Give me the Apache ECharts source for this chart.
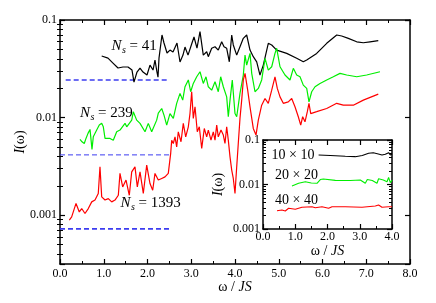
<!DOCTYPE html>
<html><head><meta charset="utf-8">
<script src="https://cdn.jsdelivr.net/npm/echarts@6/dist/echarts.min.js"></script>
<style>html,body{margin:0;padding:0;background:#fff}#c{width:436px;height:303px}</style>
</head><body><div id="c"></div>
<script>
// ---------- main panel data (omega/JS, I(omega)) ----------
const blackX = [0.953,1.097,1.211,1.326,1.44,1.554,1.646,1.691,1.76,1.829,1.897,1.989,2.057,2.126,2.171,2.217,2.24,2.263,2.331,2.377,2.446,2.514,2.583,2.674,2.743,2.811,2.857,2.926,3.017,3.063,3.131,3.2,3.275,3.353,3.39,3.467,3.543,3.618,3.696,3.749,3.81,3.87,3.925,3.961,4.039,4.114,4.19,4.267,4.343,4.418,4.496,4.571,4.647,4.761,4.839,4.953,5.182,5.41,5.561,5.639,5.867,6.096,6.325,6.439,6.59,6.782,6.933,7.086,7.275];
const blackY = [0.0428,0.0407,0.0362,0.0322,0.0330,0.0330,0.0307,0.0231,0.0293,0.0322,0.0293,0.0273,0.0345,0.0307,0.0389,0.0293,0.0260,0.0407,0.0702,0.0581,0.0459,0.0492,0.0470,0.0581,0.0371,0.0437,0.0528,0.0437,0.0581,0.0670,0.0516,0.0759,0.0437,0.0473,0.0421,0.0513,0.0532,0.0492,0.0598,0.0532,0.0513,0.0373,0.0702,0.0555,0.0437,0.0532,0.0649,0.0702,0.0492,0.0421,0.0373,0.0273,0.0345,0.0577,0.0555,0.0492,0.0455,0.0405,0.0373,0.0389,0.0455,0.0577,0.0702,0.0686,0.0649,0.0598,0.0585,0.0598,0.0614];

const greenX = [0.457,0.503,0.555,0.594,0.64,0.686,0.731,0.761,0.839,0.898,0.953,0.99,1.029,1.143,1.218,1.296,1.371,1.486,1.525,1.639,1.675,1.753,1.829,1.943,2.018,2.096,2.21,2.247,2.325,2.377,2.439,2.514,2.59,2.667,2.743,2.805,2.857,2.933,2.987,3.047,3.125,3.2,3.275,3.337,3.39,3.467,3.543,3.618,3.673,3.733,3.81,3.847,3.886,3.938,4.0,4.039,4.114,4.19,4.229,4.267,4.343,4.382,4.457,4.533,4.571,4.61,4.686,4.761,4.839,4.914,4.953,5.029,5.143,5.257,5.333,5.41,5.486,5.561,5.639,5.691,5.753,5.829,5.943,6.096,6.247,6.4,6.553,6.782,7.01,7.314];
const greenY = [0.00597,0.00565,0.00543,0.00612,0.00689,0.00757,0.00472,0.00635,0.00745,0.00838,0.00873,0.00805,0.00612,0.00612,0.00587,0.00715,0.00745,0.00873,0.00805,0.00942,0.01146,0.00942,0.00873,0.00715,0.00873,0.00715,0.00942,0.0111,0.0124,0.0106,0.00838,0.0110,0.00982,0.0140,0.0177,0.0151,0.0207,0.0243,0.0184,0.0224,0.0262,0.0295,0.0224,0.0262,0.0207,0.0191,0.0233,0.0184,0.0262,0.0207,0.0163,0.0102,0.0151,0.0243,0.0110,0.0102,0.0177,0.0273,0.0437,0.0345,0.0455,0.0284,0.0184,0.0199,0.0191,0.0243,0.0405,0.0307,0.0332,0.0455,0.0513,0.0332,0.0273,0.0243,0.0320,0.0273,0.0262,0.0215,0.0199,0.0145,0.0184,0.0207,0.0224,0.0243,0.0262,0.0284,0.0273,0.0262,0.0273,0.0295];

const redX = [0.213,0.267,0.366,0.441,0.496,0.571,0.647,0.725,0.8,0.875,0.914,0.953,1.029,1.104,1.182,1.257,1.333,1.371,1.433,1.509,1.584,1.639,1.714,1.767,1.829,1.904,1.982,2.057,2.119,2.171,2.247,2.325,2.4,2.475,2.53,2.553,2.59,2.629,2.667,2.704,2.766,2.818,2.873,2.933,2.971,3.01,3.047,3.086,3.138,3.184,3.239,3.298,3.353,3.39,3.451,3.504,3.543,3.582,3.618,3.68,3.733,3.771,3.81,3.847,3.886,3.925,3.961,4.0,4.039,4.075,4.114,4.153,4.19,4.229,4.29,4.343,4.418,4.48,4.533,4.61,4.686,4.761,4.839,4.914,4.967,5.029,5.104,5.218,5.296,5.371,5.447,5.502,5.547,5.6,5.653,5.691,5.731,5.867,6.096,6.325,6.475,6.704,6.933,7.275];
const redY = [0.000889,0.000962,0.00132,0.00108,0.00117,0.00104,0.00117,0.00137,0.00143,0.00167,0.00313,0.00154,0.00143,0.00148,0.00137,0.00143,0.00160,0.00268,0.00195,0.00229,0.00160,0.00278,0.00313,0.00195,0.00278,0.00167,0.00326,0.00211,0.00180,0.00268,0.00229,0.00238,0.00247,0.00268,0.00430,0.00587,0.00543,0.00635,0.00502,0.00715,0.00565,0.00873,0.00635,0.00805,0.0110,0.0184,0.00982,0.0129,0.00715,0.00805,0.00483,0.00774,0.00635,0.00745,0.00587,0.00715,0.00587,0.00838,0.00635,0.00745,0.00662,0.00543,0.00805,0.00587,0.00396,0.00290,0.00238,0.00167,0.00313,0.00543,0.00982,0.0151,0.0243,0.0284,0.0191,0.0129,0.00774,0.00662,0.00942,0.0134,0.0157,0.0140,0.0191,0.0262,0.0199,0.0163,0.0140,0.0145,0.0157,0.0129,0.0102,0.00838,0.0102,0.00906,0.0115,0.0140,0.0110,0.0115,0.0124,0.0140,0.0134,0.0134,0.0151,0.0174];

// reference (dashed) levels: [x start, x end], value
const refLevels = [
  {x: [0.13, 2.5], y: 0.0243},
  {x: [0.0, 2.5], y: 0.00415},
  {x: [0.0, 2.5], y: 0.000724}
];

// ---------- inset data ----------
const in10X = [1.724,2.087,2.552,2.862,3.079,3.274,3.42,3.575,3.69,3.792,3.895,3.947,4.0];
const in10Y = [0.046,0.0449,0.043,0.0422,0.0449,0.0502,0.0519,0.0484,0.046,0.0478,0.0519,0.046,0.0478];
const in20X = [0.899,1.104,1.312,1.498,1.674,1.777,1.87,2.242,2.707,3.017,3.172,3.234,3.389,3.535,3.584,3.73,3.845,3.895,3.947,4.0];
const in20Y = [0.00924,0.01064,0.01156,0.0108,0.01064,0.01294,0.0133,0.0124,0.0123,0.0126,0.01064,0.01294,0.0123,0.01064,0.0135,0.0126,0.01156,0.0144,0.011,0.0126];
const in40X = [0.434,0.589,0.691,0.794,1.002,1.209,1.519,1.622,1.829,2.034,2.087,2.14,2.552,3.07,3.482,3.584,3.69,3.895,4.0];
const in40Y = [0.00258,0.00267,0.00254,0.00292,0.00277,0.00308,0.00317,0.00301,0.00317,0.00292,0.00267,0.00317,0.00317,0.00308,0.00329,0.00346,0.00308,0.00317,0.00317];

// tick labels
const yTickValues = [0.001, 0.01, 0.1];
const yTickLabels = ['0.001', '0.01', '0.1'];
// minor log ticks of the main panel (2..9 x decade)
const mainMinorTicks = [];
[0.0001, 0.001, 0.01].forEach(d => { for (let k = 2; k <= 9; k++) { const v = k * d; if (v > 0.000317 && v < 0.1) mainMinorTicks.push(v); } });

const font = 'Liberation Serif';
const zip = (xs, ys) => xs.map((x, i) => [x, ys[i]]);
const fmtX = v => v.toFixed(1);
const fmtY = v => {
  for (let i = 0; i < yTickValues.length; i++) {
    if (Math.abs(Math.log10(v) - Math.log10(yTickValues[i])) < 1e-6) return yTickLabels[i];
  }
  return '';
};
const axisLine = {show: true, onZero: false, lineStyle: {color: '#000', width: 1.5}};
const nameStyle = {color: '#000', fontFamily: font, fontSize: 14, rich: {i: {fontStyle: 'italic', fontFamily: font, fontSize: 14, color: '#000'}}};

function xAx(gridIndex, position, max, showLabel, name, nameGap, labelMargin) {
  return {
    type: 'value', gridIndex, position, min: 0, max, interval: 1,
    axisLine,
    axisTick: {show: true, inside: true, length: 5, lineStyle: {color: '#000', width: 1.2}},
    minorTick: {show: true, splitNumber: 2, length: 3, lineStyle: {color: '#000', width: 1}},
    splitLine: {show: false}, minorSplitLine: {show: false},
    axisLabel: {show: showLabel, formatter: fmtX, color: '#000', fontFamily: font, fontSize: 12, margin: labelMargin || 4, showMinLabel: true, showMaxLabel: true, hideOverlap: false},
    name: name || '', nameLocation: 'middle', nameGap: nameGap || 0, nameMoveOverlap: false, nameTextStyle: nameStyle
  };
}
function yAx(gridIndex, position, min, max, showLabel, name, nameGap, nativeMinor) {
  return {
    type: 'log', logBase: 10, gridIndex, position, min, max,
    axisLine,
    axisTick: {show: true, inside: true, length: 5, lineStyle: {color: '#000', width: 1.2}},
    minorTick: {show: nativeMinor, splitNumber: 9, length: 3, lineStyle: {color: '#000', width: 1}},
    splitLine: {show: false}, minorSplitLine: {show: false},
    axisLabel: {show: showLabel, formatter: fmtY, color: '#000', fontFamily: font, fontSize: 12, margin: 3, showMinLabel: true, showMaxLabel: true, hideOverlap: false},
    name: name || '', nameLocation: 'middle', nameGap: nameGap || 0, nameMoveOverlap: false, nameTextStyle: nameStyle
  };
}
function yMinorAx(gridIndex, position, min, max, values) {
  return {
    type: 'log', logBase: 10, gridIndex, position, min, max, offset: 0,
    axisLine: {show: false},
    axisTick: {show: true, inside: true, length: 3, customValues: values, lineStyle: {color: '#000', width: 1}},
    minorTick: {show: false}, splitLine: {show: false}, axisLabel: {show: false}
  };
}

const line = (xi, yi, data, color, width, type) => ({
  type: 'line', xAxisIndex: xi, yAxisIndex: yi, data, symbol: 'none', showSymbol: false,
  lineStyle: {color, width, type: type || 'solid'}, z: 3, silent: true
});

const series = [];
refLevels.forEach((r, i) => series.push(line(0, 0, [[r.x[0], r.y], [r.x[1], r.y]], '#3c3cf0', i === 1 ? 1 : 1.6, [5, 3])));
series.push(line(0, 0, zip(blackX, blackY), '#000000', 1.2));
series.push(line(0, 0, zip(greenX, greenY), '#00ee00', 1.2));
series.push(line(0, 0, zip(redX, redY), '#ff0000', 1.2));
series.push(line(2, 2, zip(in10X, in10Y), '#000000', 1.1));
series.push(line(2, 2, zip(in20X, in20Y), '#00ee00', 1.1));
series.push(line(2, 2, zip(in40X, in40Y), '#ff0000', 1.1));

function txt(x, y, text, size, italic) {
  return {type: 'text', x, y, z: 10, style: {text, fill: '#000', font: (italic ? 'italic ' : '') + size + 'px "Liberation Serif"', verticalAlign: 'middle', align: 'left'}};
}
function nsLabel(x, y, rest) {
  return [txt(x, y, 'N', 15, true), txt(x + 10.5, y + 4, 's', 10, true), txt(x + 18, y, rest, 15, false)];
}

const yMinMain = Math.pow(10, -3.5);
const option = {
  animation: false,
  backgroundColor: '#fff',
  grid: [
    {left: 60, top: 20, width: 350, height: 244, containLabel: false},
    {left: 263, top: 140, width: 129, height: 89, show: true, backgroundColor: '#fff', borderWidth: 0, containLabel: false}
  ],
  xAxis: [
    xAx(0, 'bottom', 8, true, 'ω / {i|JS}', 16, 4),
    xAx(0, 'top', 8, false),
    xAx(1, 'bottom', 4, true, 'ω / {i|JS}', 15, 2),
    xAx(1, 'top', 4, false)
  ],
  yAxis: [
    yAx(0, 'left', yMinMain, 0.1, true, '{i|I}(ω)', 33, false),
    yAx(0, 'right', yMinMain, 0.1, false, '', 0, false),
    yAx(1, 'left', 0.001, 0.1, true, '{i|I}(ω)', 38, true),
    yAx(1, 'right', 0.001, 0.1, false, '', 0, true),
    yMinorAx(0, 'left', yMinMain, 0.1, mainMinorTicks),
    yMinorAx(0, 'right', yMinMain, 0.1, mainMinorTicks)
  ],
  series,
  graphic: [].concat(
    nsLabel(111.5, 46, '= 41'),
    nsLabel(80, 113, '= 239'),
    nsLabel(120.5, 203, '= 1393'),
    [txt(271.5, 155, '10 × 10', 14, false), txt(275, 175, '20 × 20', 14, false), txt(275, 200.5, '40 × 40', 14, false)]
  )
};
const chart = echarts.init(document.getElementById('c'), null, {renderer: 'canvas'});
chart.setOption(option);
</script></body></html>
